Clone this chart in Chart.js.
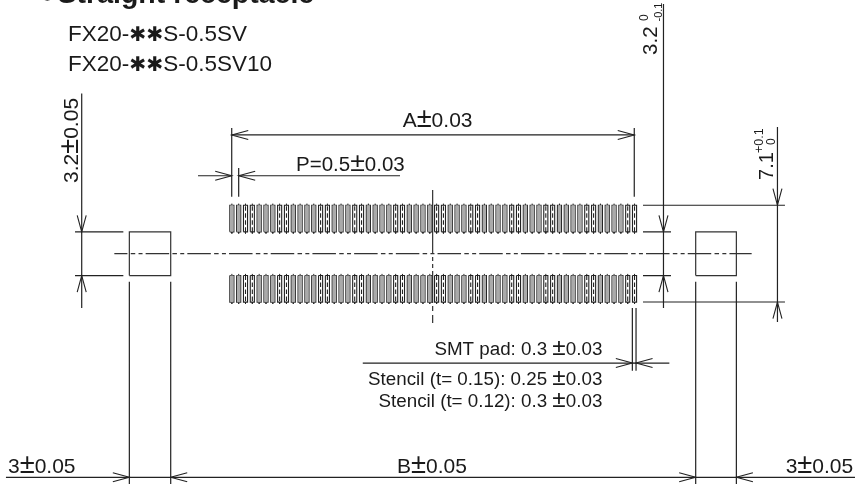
<!DOCTYPE html>
<html>
<head>
<meta charset="utf-8">
<title>FX20 straight receptacle</title>
<script src="https://cdn.jsdelivr.net/npm/chart.js@4"></script>
<style>
    html, body { margin: 0; padding: 0; background: #fff; }
    canvas { display: block; }
</style>
</head>
<body>
<canvas id="footprint" width="855" height="487"></canvas>
<script>
// everything is in mm of the drawing, origin = middle of the connector

// pad centres along the connector
const padCentres = [
    -14.75, -14.25, -13.75, -13.25, -12.75, -12.25, -11.75, -11.25, -10.75, -10.25,
    -9.75, -9.25, -8.75, -8.25, -7.75, -7.25, -6.75, -6.25, -5.75, -5.25,
    -4.75, -4.25, -3.75, -3.25, -2.75, -2.25, -1.75, -1.25, -0.75, -0.25,
    0.25, 0.75, 1.25, 1.75, 2.25, 2.75, 3.25, 3.75, 4.25, 4.75,
    5.25, 5.75, 6.25, 6.75, 7.25, 7.75, 8.25, 8.75, 9.25, 9.75,
    10.25, 10.75, 11.25, 11.75, 12.25, 12.75, 13.25, 13.75, 14.25, 14.75
];
// pads that read as white in the scan, the rest read as grey
const lightPads = [2, 3, 7, 8, 13, 14, 18, 19, 24, 25, 30, 31, 35, 36, 41, 42, 46, 47, 52, 53, 58, 59];
// [inner y, outer y] of the two pad rows
const padRows = [[1.6, 3.55], [-1.6, -3.55]];
const padHalfWidth = 0.15;
const padCentreOverrun = 0.12;

// metal fix pads, [left, right, bottom, top]
const fixPads = [
    [-22.26, -19.23, -1.6, 1.6],
    [19.23, 22.21, -1.6, 1.6]
];

// solid lines, [x1, y1, x2, y2]
const solidLines = [
    // 3.2 +- 0.05 left
    [-25.75, 11.74, -25.75, -3.98],
    [-26.24, 1.6, -22.7, 1.6],
    [-26.24, -1.6, -22.7, -1.6],
    // A
    [-14.76, 9.21, -14.76, 4.18],
    [14.73, 9.21, 14.73, 4.18],
    [-14.76, 8.7, 14.73, 8.7],
    // P
    [-14.25, 6.28, -14.25, 4.18],
    [-17.23, 5.71, -14.76, 5.71],
    [-14.25, 5.71, -2.43, 5.71],
    // 3.2 right
    [16.87, 18.29, 16.87, -3.98],
    [15.37, 1.6, 17.42, 1.6],
    [15.37, -1.6, 17.42, -1.6],
    // 7.1
    [15.37, 3.55, 25.77, 3.55],
    [15.37, -3.54, 25.77, -3.54],
    [25.22, 9.28, 25.22, -5],
    // B and the 3s
    [-22.26, -2.05, -22.26, -16.87],
    [-19.23, -2.05, -19.23, -16.87],
    [19.23, -2.05, 19.23, -16.87],
    [22.21, -2.05, 22.21, -16.87],
    [-31.3, -16.38, 30.9, -16.38],
    // SMT pad
    [14.59, -3.98, 14.59, -8.57],
    [14.86, -3.98, 14.86, -8.57],
    [-5.16, -8.01, 17.3, -8.01]
];

// chain lines
const centreLineH = [[-23.36, 0, 23.33, 0]];
const centreLineV = [[-0.04, 4.67, -0.04, -5.08]];

// arrow tips, [x, y]; the name says which way the arrow points
const arrowsRight = [[14.73, 8.7], [-14.76, 5.71], [-22.26, -16.38], [19.23, -16.38], [14.59, -8.01]];
const arrowsLeft = [[-14.76, 8.7], [-14.25, 5.71], [-19.23, -16.38], [22.21, -16.38], [14.86, -8.01]];
const arrowsDown = [[-25.75, 1.6], [16.87, 1.6], [25.22, 3.55]];
const arrowsUp = [[-25.75, -1.6], [16.87, -1.6], [25.22, -3.54]];

// texts, one row per label: text, x, y, size, bold, align, rotated
const labelTexts = [
    ['\u25CFStraight receptacle', -29.03, 18.4, 28.5, true, 'left', false],
    ['FX20-\u2731\u2731S-0.5SV', -26.76, 15.6, 22.5, false, 'left', false],
    ['FX20-\u2731\u2731S-0.5SV10', -26.76, 13.41, 22.5, false, 'left', false],
    ['A\u00B10.03', 0.32, 9.28, 21, false, 'center', false],
    ['P=0.5\u00B10.03', -10.05, 6.06, 20.5, false, 'left', false],
    ['3.2\u00B10.05', -26.02, 5.18, 21, false, 'left', true],
    ['3.2', 16.37, 14.56, 20.5, false, 'left', true],
    ['0', 15.74, 17.05, 12, false, 'left', true],
    ['-0.1', 16.73, 17.01, 11, false, 'left', true],
    ['7.1', 24.89, 5.4, 20, false, 'left', true],
    ['+0.1', 24.13, 7.38, 12.5, false, 'left', true],
    ['0', 25.04, 7.96, 12, false, 'left', true],
    ['SMT pad: 0.3 \u00B10.03', 12.39, -7.42, 18.8, false, 'right', false],
    ['Stencil (t= 0.15): 0.25 \u00B10.03', 12.39, -9.62, 18.8, false, 'right', false],
    ['Stencil (t= 0.12): 0.3 \u00B10.03', 12.39, -11.25, 18.8, false, 'right', false],
    ['3\u00B10.05', -31.15, -16.04, 21, false, 'left', false],
    ['B\u00B10.05', -0.09, -16.04, 21, false, 'center', false],
    ['3\u00B10.05', 25.82, -16.04, 21, false, 'left', false]
];

// arrow head size
const arrowLength = 1.21;
const arrowHalfWidth = 0.33;

const inkColour = '#222';

// turns [x1, y1, x2, y2] rows into one point list with gaps between them
function segmentsToPoints(segments) {
    const points = [];
    segments.forEach(s => {
        points.push({ x: s[0], y: s[1] }, { x: s[2], y: s[3] }, { x: s[2], y: null });
    });
    return points;
}

function padOutlines() {
    const points = [];
    padCentres.forEach(c => {
        padRows.forEach(r => {
            const l = c - padHalfWidth, h = c + padHalfWidth;
            points.push({ x: l, y: r[0] }, { x: h, y: r[0] }, { x: h, y: r[1] }, { x: l, y: r[1] }, { x: l, y: r[0] }, { x: l, y: null });
        });
    });
    return points;
}

// the axis of each pad, only for the pads picked by keep(index)
function padMiddles(keep) {
    const segments = [];
    padCentres.forEach((c, i) => {
        if (!keep(i)) return;
        padRows.forEach(r => segments.push([c, r[0], c, r[1]]));
    });
    return segmentsToPoints(segments);
}

// little ticks where the pad axis runs out of both ends
function padTicks() {
    const segments = [];
    padCentres.forEach(c => {
        padRows.forEach(r => {
            const dir = r[1] > 0 ? 1 : -1;
            segments.push([c, r[0], c, r[0] - dir * padCentreOverrun]);
            segments.push([c, r[1], c, r[1] + dir * padCentreOverrun]);
        });
    });
    return segmentsToPoints(segments);
}

function fixPadOutlines() {
    const points = [];
    fixPads.forEach(p => {
        points.push({ x: p[0], y: p[2] }, { x: p[1], y: p[2] }, { x: p[1], y: p[3] }, { x: p[0], y: p[3] }, { x: p[0], y: p[2] }, { x: p[0], y: null });
    });
    return points;
}

function arrowHeads() {
    const points = [];
    const L = arrowLength, W = arrowHalfWidth;
    const add = (tip, a, b) => {
        points.push({ x: tip[0] + a[0], y: tip[1] + a[1] }, { x: tip[0], y: tip[1] }, { x: tip[0] + b[0], y: tip[1] + b[1] }, { x: tip[0], y: null });
    };
    arrowsRight.forEach(t => add(t, [-L, W], [-L, -W]));
    arrowsLeft.forEach(t => add(t, [L, W], [L, -W]));
    arrowsDown.forEach(t => add(t, [-W, L], [W, L]));
    arrowsUp.forEach(t => add(t, [-W, -L], [W, -L]));
    return points;
}

function lineSet(data, width, dash, dashOffset, colour) {
    return {
        data: data,
        showLine: true,
        spanGaps: false,
        borderColor: colour || inkColour,
        borderWidth: width,
        borderDash: dash || [],
        borderDashOffset: dashOffset || 0,
        borderCapStyle: 'butt',
        borderJoinStyle: 'miter',
        pointRadius: 0,
        tension: 0,
        clip: false
    };
}

// the scan has a wider plus-minus and a lighter star than Liberation, so those get their own run
function labelRuns(text, size, bold) {
    return text.split(/([\u00B1\u2731\u25CF])/).filter(s => s !== '').map(s => {
        let font = (bold ? 'bold ' : '') + size + 'px "Liberation Sans", sans-serif';
        if (s === '\u00B1') font = (size * 1.3) + 'px "Liberation Sans", sans-serif';
        if (s === '\u2731') font = (size * 0.9) + 'px "DejaVu Sans", sans-serif';
        if (s === '\u25CF') font = (size * 1.2) + 'px "Liberation Sans", sans-serif';
        return { text: s, font: font };
    });
}

// text has no mark in chart.js, so it goes on top through the scales
const drawingText = {
    id: 'drawingText',
    afterDatasetsDraw(chart) {
        const ctx = chart.ctx;
        const xs = chart.scales.x, ys = chart.scales.y;
        labelTexts.forEach(t => {
            const runs = labelRuns(t[0], t[3], t[4]);
            let total = 0;
            runs.forEach(r => {
                ctx.font = r.font;
                r.width = ctx.measureText(r.text).width;
                total += r.width;
            });
            ctx.save();
            ctx.translate(xs.getPixelForValue(t[1]), ys.getPixelForValue(t[2]));
            if (t[6]) ctx.rotate(-Math.PI / 2);
            ctx.fillStyle = '#1a1a1a';
            ctx.textAlign = 'left';
            ctx.textBaseline = 'alphabetic';
            let at = t[5] === 'right' ? -total : t[5] === 'center' ? -total / 2 : 0;
            runs.forEach(r => {
                ctx.font = r.font;
                ctx.fillText(r.text, at, 0);
                at += r.width;
            });
            ctx.restore();
        });
    }
};

new Chart(document.getElementById('footprint').getContext('2d'), {
    type: 'scatter',
    data: {
        datasets: [
            lineSet(padMiddles(i => !lightPads.includes(i)), 3.2, [], 0, '#aaa'),
            lineSet(padMiddles(i => !lightPads.includes(i)), 1.7, [2.5, 4.5], 5, '#fff'),
            lineSet(padMiddles(i => lightPads.includes(i)), 1.1, [4.5, 2.5], 0, '#222'),
            lineSet(padOutlines(), 1.1),
            lineSet(padTicks(), 1),
            lineSet(fixPadOutlines(), 1.2, [], 0, '#333'),
            lineSet(segmentsToPoints(solidLines), 1.2),
            lineSet(segmentsToPoints(centreLineH), 1.3, [23.5, 3.3, 4.5, 3.3, 4, 3.1], 10.4, '#333'),
            lineSet(segmentsToPoints(centreLineV), 1.2, [63, 4, 4, 3, 4, 3, 32, 3, 5, 4, 8], 0, '#333'),
            lineSet(arrowHeads(), 1.1)
        ]
    },
    options: {
        responsive: false,
        animation: false,
        layout: { padding: 0 },
        plugins: { legend: { display: false }, tooltip: { enabled: false } },
        scales: {
            x: { type: 'linear', display: false, min: -31.736, max: 30.901 },
            y: { type: 'linear', display: false, min: -17.092, max: 18.586 }
        }
    },
    plugins: [drawingText]
});
</script>
</body>
</html>
